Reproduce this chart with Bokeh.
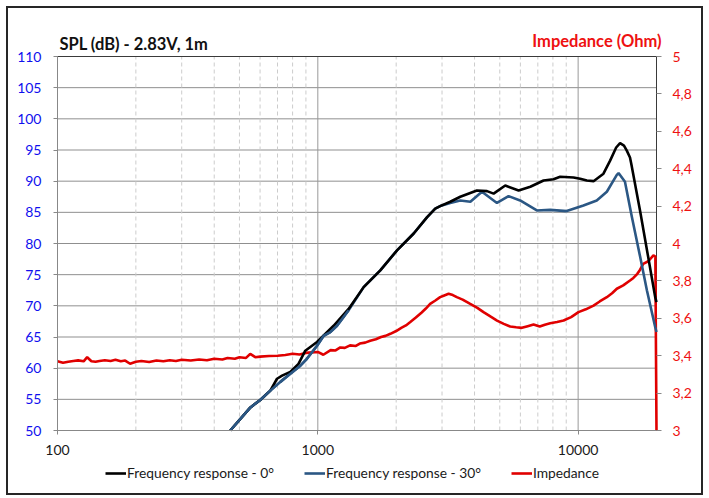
from bokeh.plotting import figure
from bokeh.models import (Range1d, LinearAxis, FixedTicker, CustomJSTickFormatter,
                          Label, Legend, LegendItem)
from bokeh.embed import file_html
from bokeh.resources import INLINE
import math

# ---------------- data ----------------
freq_0 = [461, 551, 601, 657, 697, 729, 784, 843, 895, 993, 1150, 1313, 1500,
          1738, 2015, 2335, 2625, 2825, 2951, 3226, 3526, 4084, 4466, 4735, 5248,
          5907, 6551, 7366, 8041, 8531, 9600, 10180, 10800, 11460, 12510, 13270,
          14000, 14490, 15000, 15380, 15820, 16000, 17300, 18570, 19770, 20000]
spl_0 = [50.0, 53.7, 54.9, 56.4, 58.3, 58.8, 59.4, 60.7, 62.8, 64.2, 66.8, 69.5,
         73.0, 75.7, 78.9, 81.6, 84.2, 85.6, 86.0, 86.7, 87.5, 88.5, 88.4, 88.0, 89.3,
         88.5, 89.1, 90.1, 90.3, 90.7, 90.6, 90.4, 90.1, 90.0, 91.2, 93.3,
         95.4, 96.1, 95.7, 94.9, 93.8, 92.8, 85.2, 77.9, 71.4, 70.6]

freq_30 = [461, 551, 601, 657, 718, 784, 857, 908, 993, 1053, 1117, 1185, 1313,
           1500, 1738, 2015, 2335, 2625, 2825, 2951, 3226, 3526, 3855, 4270, 4876,
           5404, 5987, 6939, 7807, 9040, 10480, 11790, 12890, 14080, 14300, 15130,
           16080, 17300, 18370, 19770, 20000]
spl_30 = [50.0, 53.7, 54.9, 56.4, 57.8, 59.1, 60.4, 61.5, 63.6, 65.2, 65.8, 66.8,
          69.3, 73.0, 75.7, 78.9, 81.6, 84.2, 85.6, 86.0, 86.5, 86.9, 86.7, 88.3, 86.5,
          87.6, 86.9, 85.3, 85.4, 85.2, 86.1, 86.9, 88.3, 91.0, 91.3, 89.9,
          84.3, 77.9, 72.5, 66.6, 65.8]

freq_imp = [100, 105, 110, 115, 120, 126, 130, 135, 140, 145, 152, 160, 167, 175, 182,
            190, 200, 210, 225, 240, 255, 270, 285, 300, 325, 350, 375, 400, 430, 450,
            480, 500, 530, 550, 575, 600, 650, 700, 750, 800, 850, 900, 950, 1000, 1050,
            1120, 1170, 1220, 1270, 1330, 1400, 1450, 1520, 1590, 1670, 1750, 1820, 1900,
            2000, 2100, 2180, 2260, 2380, 2500, 2600, 2700, 2820, 2950, 3060, 3180, 3300,
            3420, 3600, 3850, 4100, 4330, 4600, 4880, 5180, 5480, 5780, 6080, 6400, 6740,
            7120, 7450, 7810, 8300, 8790, 9400, 10030, 10700, 11460, 12100, 12890, 13500,
            14080, 14900, 15820, 16300, 16880, 17300, 17780, 18600, 19460, 19800, 20000]
imp = [3.370, 3.362, 3.368, 3.372, 3.375, 3.370, 3.392, 3.370, 3.368, 3.372, 3.376, 3.372,
       3.378, 3.370, 3.374, 3.357, 3.368, 3.372, 3.366, 3.374, 3.370, 3.376, 3.372, 3.378,
       3.374, 3.380, 3.376, 3.384, 3.380, 3.388, 3.384, 3.392, 3.388, 3.410, 3.392, 3.395,
       3.398, 3.400, 3.404, 3.410, 3.406, 3.415, 3.418, 3.420, 3.405, 3.430, 3.428, 3.444,
       3.442, 3.455, 3.452, 3.465, 3.470, 3.480, 3.488, 3.500, 3.506, 3.517, 3.532, 3.550,
       3.562, 3.579, 3.604, 3.630, 3.652, 3.677, 3.694, 3.713, 3.722, 3.731, 3.724, 3.713,
       3.700, 3.677, 3.656, 3.633, 3.610, 3.588, 3.570, 3.556, 3.552, 3.549, 3.558, 3.567,
       3.556, 3.566, 3.574, 3.580, 3.588, 3.606, 3.633, 3.648, 3.668, 3.690, 3.713, 3.734,
       3.758, 3.776, 3.802, 3.816, 3.838, 3.860, 3.891, 3.905, 3.936, 3.930, 3.000]

x_ticks = [100, 1000, 10000]
x_minor = [200, 300, 400, 500, 600, 700, 800, 900,
           2000, 3000, 4000, 5000, 6000, 7000, 8000, 9000]
spl_ticks = [50, 55, 60, 65, 70, 75, 80, 85, 90, 95, 100, 105, 110]
imp_ticks = [3.0, 3.2, 3.4, 3.6, 3.8, 4.0, 4.2, 4.4, 4.6, 4.8, 5.0]

label_0 = "Frequency response - 0°"
label_30 = "Frequency response - 30°"
label_imp = "Impedance"
title_left = "SPL (dB) - 2.83V, 1m"
title_right = "Impedance (Ohm)"

# ---------------- layout / styles ----------------
FONT = "Lato"
BLACK = "#000000"
BLUE_LINE = "#2b5784"
RED = "#e00000"
BLUE_TXT = "#1010ee"
RED_TXT = "#ee1111"

X_MIN, X_MAX = 100, 20000
SPL_MIN, SPL_MAX = 50, 110
IMP_MIN, IMP_MAX = 3, 5
PLOT_W, PLOT_H = 599, 374      # pixel size of the plot area
LEFT_PAD, RIGHT_PAD = 49, 45   # room for the value axes
TOP_PAD, BOT_PAD = 48, 63      # room for headings / x labels and legend

decades = math.log10(X_MAX / X_MIN)
x_lo = X_MIN / 10 ** (decades * LEFT_PAD / PLOT_W)
x_hi = X_MAX * 10 ** (decades * RIGHT_PAD / PLOT_W)
spl_top = SPL_MAX + (SPL_MAX - SPL_MIN) * TOP_PAD / PLOT_H
spl_bot = SPL_MIN - (SPL_MAX - SPL_MIN) * BOT_PAD / PLOT_H
imp_top = IMP_MAX + (IMP_MAX - IMP_MIN) * TOP_PAD / PLOT_H
imp_bot = IMP_MIN - (IMP_MAX - IMP_MIN) * BOT_PAD / PLOT_H

p = figure(x_axis_type="log", x_range=Range1d(x_lo, x_hi), y_range=Range1d(spl_bot, spl_top),
           frame_width=PLOT_W + LEFT_PAD + RIGHT_PAD, frame_height=PLOT_H + TOP_PAD + BOT_PAD,
           min_border_left=0, min_border_right=0, min_border_top=0, min_border_bottom=0,
           output_backend="svg", toolbar_location=None, title=None)
p.styles = {"border": "2px solid #262626", "margin-left": "6px", "margin-top": "6px"}
p.background_fill_color = "white"
p.border_fill_color = "white"
p.outline_line_color = None

p.extra_y_ranges = {"imp": Range1d(imp_bot, imp_top)}

# x axis (sits on the 50 dB line)
p.xaxis.fixed_location = SPL_MIN
p.xaxis.bounds = (X_MIN, X_MAX)
p.xaxis.ticker = FixedTicker(ticks=x_ticks, minor_ticks=x_minor)
p.xaxis.formatter = CustomJSTickFormatter(code="return tick.toFixed(0);")
p.xaxis.axis_line_color = "#888888"
p.xaxis.major_tick_line_color = "#888888"
p.xaxis.major_tick_out = 4
p.xaxis.major_tick_in = 0
p.xaxis.minor_tick_out = 0
p.xaxis.minor_tick_in = 0
p.xaxis.major_label_text_font = FONT
p.xaxis.major_label_text_font_size = "14px"
p.xaxis.major_label_text_color = "#1a1a1a"
p.xaxis.major_label_standoff = 10

# left axis (sits on 100 Hz)
p.yaxis.fixed_location = X_MIN
p.yaxis.ticker = FixedTicker(ticks=spl_ticks)
p.yaxis.bounds = (SPL_MIN, SPL_MAX)
p.yaxis.axis_line_color = "#888888"
p.yaxis.major_tick_line_color = "#888888"
p.yaxis.major_tick_out = 4
p.yaxis.major_tick_in = 0
p.yaxis.minor_tick_out = 0
p.yaxis.minor_tick_in = 0
p.yaxis.major_label_text_font = FONT
p.yaxis.major_label_text_font_size = "14px"
p.yaxis.major_label_text_color = BLUE_TXT
p.yaxis.major_label_standoff = 12

# right axis (sits on 20 kHz)
raxis = LinearAxis(y_range_name="imp", ticker=FixedTicker(ticks=imp_ticks),
                   bounds=(IMP_MIN, IMP_MAX), fixed_location=X_MAX,
                   formatter=CustomJSTickFormatter(
                       code="var s = (Math.round(tick*10)/10).toString(); return s.replace('.', ',');"))
raxis.axis_line_color = None
raxis.major_tick_line_color = "#888888"
raxis.major_tick_out = 5
raxis.major_tick_in = 0
raxis.minor_tick_out = 0
raxis.minor_tick_in = 0
raxis.major_label_text_font = FONT
raxis.major_label_text_font_size = "14px"
raxis.major_label_text_color = RED_TXT
raxis.major_label_standoff = 11
p.add_layout(raxis, "right")

# grids, drawn only over the plot area
p.xgrid.visible = False
p.ygrid.visible = False
p.segment(x0=[X_MIN] * len(spl_ticks), y0=spl_ticks, x1=[X_MAX] * len(spl_ticks), y1=spl_ticks,
          line_color="#8f8f8f", line_width=1)
p.segment(x0=x_minor, y0=[SPL_MIN] * len(x_minor), x1=x_minor, y1=[SPL_MAX] * len(x_minor),
          line_color="#cccccc", line_width=1, line_dash="4 3")
p.segment(x0=x_ticks, y0=[SPL_MIN] * len(x_ticks), x1=x_ticks, y1=[SPL_MAX] * len(x_ticks),
          line_color="#9a9a9a", line_width=1)
# plot-area border: top and right
p.line([X_MIN, X_MAX, X_MAX], [SPL_MAX, SPL_MAX, SPL_MIN], line_color="#3a3a3a", line_width=1)

# lines
r_imp = p.line(freq_imp, imp, y_range_name="imp", line_color=RED, line_width=2.6)
r30 = p.line(freq_30, spl_30, line_color=BLUE_LINE, line_width=2.6)
r0 = p.line(freq_0, spl_0, line_color=BLACK, line_width=2.6)
# keep blue above black in the lower part as in the reference
r30b = p.line(freq_30[:13], spl_30[:13], line_color=BLUE_LINE, line_width=2.6)

# headings
p.add_layout(Label(x=X_MIN, y=SPL_MAX, x_offset=2, y_offset=13, text=title_left,
                   text_font=FONT, text_font_size="16.5px", text_font_style="bold",
                   text_color="#111111", text_baseline="middle", text_align="left"))
p.add_layout(Label(x=X_MAX, y=SPL_MAX, x_offset=5, y_offset=16, text=title_right,
                   text_font=FONT, text_font_size="16.5px", text_font_style="bold",
                   text_color=RED_TXT, text_baseline="middle", text_align="right"))

legend = Legend(items=[LegendItem(label=label_0, renderers=[r0]),
                       LegendItem(label=label_30, renderers=[r30]),
                       LegendItem(label=label_imp, renderers=[r_imp])],
                orientation="horizontal", location=(97, 12),
                padding=0, margin=0, spacing=30, label_standoff=1,
                glyph_width=21, glyph_height=16, label_height=16,
                label_text_font=FONT, label_text_font_size="13.8px",
                label_text_color="#1a1a1a",
                border_line_color=None, background_fill_alpha=0)
p.add_layout(legend)

open("out.html", "w").write(file_html(p, INLINE))
